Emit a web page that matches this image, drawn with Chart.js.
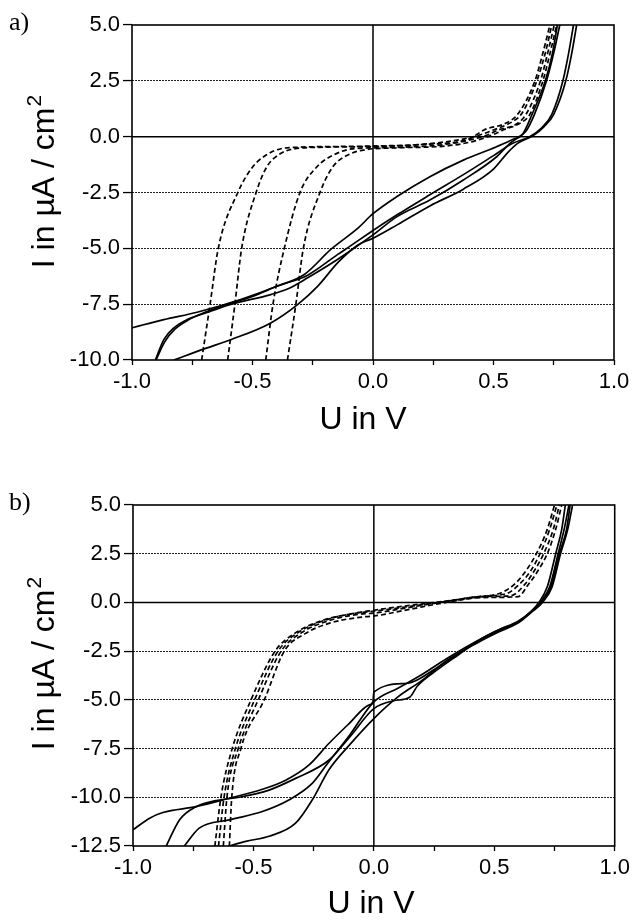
<!DOCTYPE html>
<html>
<head>
<meta charset="utf-8">
<script src="https://cdn.jsdelivr.net/npm/chart.js@4.4.1/dist/chart.umd.min.js"></script>
<style>
  html, body { margin: 0; padding: 0; background: #fff; }
  #wrap { position: relative; width: 634px; height: 921px; }
  canvas { position: absolute; left: 0; }
  #panelA { top: 0; }
  #panelB { top: 480px; }
</style>
</head>
<body>
<div id="wrap">
  <canvas id="panelA" width="634" height="470"></canvas>
  <canvas id="panelB" width="634" height="441"></canvas>
</div>
<script>
// ---- panel a: current density (µA/cm²) vs. voltage (V), [U, I] pairs ----
const aDash1 = [[-0.711,-10],[-0.676,-7.5],[-0.642,-5],[-0.561,-2.5],[-0.498,-1.34],[-0.44,-0.8],[-0.386,-0.55],[-0.3,-0.47],[-0.15,-0.44],[0,-0.42],[0.2,-0.35],[0.4,-0.1],[0.46,0.3],[0.55,0.6],[0.6,1.0],[0.672,2.5],[0.705,3.75],[0.734,5]];
const aDash2 = [[-0.603,-10],[-0.573,-7.5],[-0.545,-5],[-0.485,-2.5],[-0.44,-1.34],[-0.39,-0.8],[-0.33,-0.55],[-0.2,-0.47],[0,-0.44],[0.2,-0.35],[0.42,0.0],[0.5,0.3],[0.575,0.65],[0.615,1.0],[0.68,2.5],[0.715,3.75],[0.742,5]];
const aDash3 = [[-0.445,-10],[-0.415,-7.5],[-0.368,-5],[-0.303,-2.5],[-0.232,-1.34],[-0.16,-0.8],[-0.09,-0.55],[0,-0.5],[0.15,-0.46],[0.3,-0.35],[0.42,-0.1],[0.48,0.1],[0.52,0.3],[0.6,0.6],[0.635,1.0],[0.695,2.5],[0.725,3.75],[0.752,5]];
const aDash4 = [[-0.355,-10],[-0.32,-7.5],[-0.289,-5],[-0.22,-2.5],[-0.166,-1.34],[-0.1,-0.8],[-0.03,-0.58],[0.1,-0.5],[0.3,-0.42],[0.42,-0.2],[0.5,0.1],[0.54,0.3],[0.61,0.6],[0.651,1.0],[0.705,2.5],[0.735,3.75],[0.762,5]];

const aSolid1 = [[-1,-8.56],[-0.868,-8.19],[-0.73,-7.86],[-0.549,-7.29],[-0.396,-6.69],[-0.285,-6.17],[-0.174,-5.04],[-0.06,-4.07],[0,-3.45],[0.098,-2.69],[0.236,-1.79],[0.375,-1.05],[0.513,-0.45],[0.582,-0.12],[0.62,0.1],[0.66,1.0],[0.715,2.5],[0.745,3.75],[0.765,5]];
const aSolid2 = [[-0.903,-10],[-0.868,-9.09],[-0.826,-8.56],[-0.771,-8.19],[-0.701,-7.92],[-0.59,-7.51],[-0.424,-7.07],[-0.35,-6.8],[-0.271,-6.32],[-0.146,-5.49],[0,-4.4],[0.098,-3.59],[0.236,-2.84],[0.375,-1.94],[0.513,-0.9],[0.568,-0.3],[0.6,-0.05],[0.635,0.25],[0.67,1.0],[0.72,2.5],[0.75,3.75],[0.775,5]];
const aSolid3 = [[-0.9,-10],[-0.865,-9.2],[-0.822,-8.62],[-0.765,-8.2],[-0.7,-7.88],[-0.59,-7.45],[-0.5,-7.15],[-0.396,-6.69],[-0.271,-6.2],[-0.146,-5.27],[-0.104,-4.97],[0,-4.2],[0.1,-3.5],[0.236,-2.6],[0.375,-1.7],[0.5,-0.85],[0.58,-0.3],[0.65,0.0],[0.7,0.4],[0.742,1.0],[0.788,2.5],[0.812,3.75],[0.832,5]];
const aSolid4 = [[-0.826,-10],[-0.7,-9.5],[-0.59,-9.09],[-0.424,-8.34],[-0.312,-7.51],[-0.229,-6.69],[-0.146,-5.64],[-0.0625,-4.85],[0,-4.55],[0.1,-3.95],[0.236,-3.1],[0.375,-2.35],[0.5,-1.45],[0.56,-0.7],[0.6,-0.3],[0.665,0.05],[0.71,0.45],[0.75,1.0],[0.8,2.5],[0.825,3.75],[0.845,5]];

// ---- panel b ----
const bDash1 = [[-0.66,-12.5],[-0.635,-10],[-0.588,-7.5],[-0.51,-5],[-0.41,-2.5],[-0.33,-1.6],[-0.22,-0.95],[-0.1,-0.6],[0,-0.45],[0.15,-0.2],[0.3,0.05],[0.45,0.3],[0.53,0.5],[0.59,1.0],[0.63,1.6],[0.675,2.5],[0.72,3.75],[0.75,5]];
const bDash2 = [[-0.645,-12.5],[-0.622,-10],[-0.575,-7.5],[-0.495,-5],[-0.398,-2.5],[-0.315,-1.55],[-0.2,-0.9],[-0.08,-0.55],[0,-0.4],[0.15,-0.15],[0.3,0.07],[0.45,0.32],[0.55,0.45],[0.61,1.0],[0.65,1.6],[0.69,2.5],[0.73,3.75],[0.76,5]];
const bDash3 = [[-0.625,-12.5],[-0.61,-10],[-0.563,-7.5],[-0.48,-5],[-0.385,-2.5],[-0.3,-1.55],[-0.19,-0.95],[-0.06,-0.6],[0,-0.55],[0.15,-0.25],[0.3,0.05],[0.45,0.3],[0.57,0.35],[0.625,0.9],[0.665,1.6],[0.705,2.5],[0.745,3.75],[0.77,5]];
const bDash4 = [[-0.6,-12.5],[-0.59,-10],[-0.552,-7.5],[-0.455,-5],[-0.372,-2.5],[-0.285,-1.6],[-0.18,-1.05],[-0.05,-0.75],[0,-0.7],[0.15,-0.35],[0.3,0.0],[0.45,0.25],[0.6,0.3],[0.64,0.9],[0.68,1.6],[0.72,2.5],[0.755,3.75],[0.78,5]];

const bSolid1 = [[-1,-11.67],[-0.931,-11.07],[-0.876,-10.78],[-0.738,-10.48],[-0.6,-10.05],[-0.463,-9.59],[-0.366,-9.12],[-0.27,-8.35],[-0.187,-7.24],[-0.103,-6.22],[-0.021,-5.27],[-0.004,-5.1],[0,-4.6],[0.131,-4.16],[0.269,-3.3],[0.434,-1.95],[0.5,-1.5],[0.6,-1.0],[0.65,-0.5],[0.685,0],[0.72,0.8],[0.755,2.5],[0.78,3.75],[0.795,5]];
const bSolid2 = [[-0.862,-12.5],[-0.807,-11.16],[-0.738,-10.48],[-0.656,-10.17],[-0.559,-10.0],[-0.435,-9.63],[-0.325,-9.03],[-0.187,-8.1],[-0.1,-6.9],[0,-5.45],[0.08,-5.05],[0.15,-4.85],[0.18,-4.3],[0.27,-3.4],[0.35,-2.7],[0.45,-1.85],[0.52,-1.4],[0.6,-0.95],[0.655,-0.45],[0.69,0],[0.73,0.8],[0.765,2.5],[0.79,3.75],[0.81,5]];
const bSolid3 = [[-0.787,-12.5],[-0.725,-11.58],[-0.6,-11.16],[-0.463,-10.73],[-0.353,-10.14],[-0.256,-9.29],[-0.187,-8.18],[-0.1,-6.8],[0,-5.1],[0.1,-4.4],[0.2,-3.7],[0.3,-2.9],[0.44,-1.9],[0.52,-1.45],[0.6,-1.0],[0.66,-0.4],[0.695,0],[0.735,0.8],[0.77,2.5],[0.8,3.75],[0.815,5]];
const bSolid4 = [[-0.6,-12.5],[-0.532,-12.26],[-0.435,-12.0],[-0.325,-11.33],[-0.256,-10.14],[-0.187,-8.6],[-0.1,-7.3],[0,-5.96],[0.1,-4.85],[0.2,-4.0],[0.3,-3.0],[0.44,-2.0],[0.52,-1.5],[0.6,-1.05],[0.66,-0.45],[0.7,0],[0.74,0.8],[0.775,2.5],[0.805,3.75],[0.825,5]];

// ---- axes ----
const xTicks = [-1, -0.75, -0.5, -0.25, 0, 0.25, 0.5, 0.75, 1];
const xLabels = [-1, -0.5, 0, 0.5, 1];
const aYTicks = [-10, -7.5, -5, -2.5, 0, 2.5, 5];
const aYLabels = [-10, -7.5, -5, -2.5, 0, 2.5, 5];
const aGridY = [-7.5, -5, -2.5, 2.5];
const bYTicks = [-12.5, -11.25, -10, -8.75, -7.5, -6.25, -5, -3.75, -2.5, -1.25, 0, 1.25, 2.5, 3.75, 5];
const bYLabels = [-12.5, -10, -7.5, -5, -2.5, 0, 2.5, 5];
const bGridY = [-10, -7.5, -5, -2.5, 2.5];

const SANS = '"Liberation Sans", Arial, sans-serif';
const SERIF = '"Liberation Serif", "DejaVu Serif", serif';

const curve = (pts, dash) => ({
    data: pts.map(([x, y]) => ({ x, y })),
    showLine: true,
    borderColor: '#000',
    borderWidth: 1.7,
    borderDash: dash,
    pointRadius: 0,
    fill: false,
    cubicInterpolationMode: 'monotone'
});

// frame, zero lines and the panel texts
const decor = {
    id: 'decor',
    beforeDatasetsDraw(chart) {
        const { ctx, chartArea: a, scales: { x, y } } = chart;
        const x0 = x.getPixelForValue(0);
        const y0 = y.getPixelForValue(0);
        ctx.save();
        ctx.strokeStyle = '#000';
        ctx.lineWidth = 1.5;
        ctx.beginPath();
        ctx.moveTo(x0, a.top); ctx.lineTo(x0, a.bottom);
        ctx.moveTo(a.left, y0); ctx.lineTo(a.right, y0);
        ctx.stroke();
        ctx.restore();
    },
    afterDatasetsDraw(chart) {
        const { ctx, chartArea: a } = chart;
        ctx.save();
        ctx.strokeStyle = '#000';
        ctx.lineWidth = 1.6;
        ctx.strokeRect(a.left, a.top, a.right - a.left, a.bottom - a.top);
        ctx.restore();
    },
    afterDraw(chart, args, opts) {
        const { ctx } = chart;
        ctx.save();
        ctx.fillStyle = '#000';
        ctx.font = '26px ' + SERIF;
        ctx.textAlign = 'left';
        ctx.textBaseline = 'alphabetic';
        ctx.fillText(opts.label, 9, opts.labelY);

        ctx.font = '32px ' + SANS;
        ctx.textAlign = 'center';
        ctx.textBaseline = 'middle';
        ctx.fillText('U in V', opts.xTitle[0], opts.xTitle[1]);

        // rotated y title with a raised exponent
        const main = 'I in µA / cm';
        const wMain = ctx.measureText(main).width;
        ctx.font = '21px ' + SANS;
        const wSup = ctx.measureText('2').width;
        const start = -(wMain + wSup) / 2;
        ctx.translate(opts.yTitle[0], opts.yTitle[1]);
        ctx.rotate(-Math.PI / 2);
        ctx.textAlign = 'left';
        ctx.font = '32px ' + SANS;
        ctx.fillText(main, start, 0);
        ctx.font = '21px ' + SANS;
        ctx.fillText('2', start + wMain + 1, -10);
        ctx.restore();
    }
};

const makePanel = (id, p) => {
    const datasets = [];
    p.solid.forEach(pts => datasets.push(curve(pts, [])));
    p.dashed.forEach(pts => datasets.push(curve(pts, [5, 3])));

    return new Chart(document.getElementById(id), {
        type: 'scatter',
        data: { datasets },
        plugins: [decor],
        options: {
            responsive: false,
            animation: false,
            layout: { padding: { left: 0, right: p.padRight, top: 25, bottom: 0 } },
            plugins: {
                legend: { display: false },
                tooltip: { enabled: false },
                decor: { label: p.label, labelY: 30, xTitle: p.xTitle, yTitle: p.yTitle }
            },
            scales: {
                x: {
                    type: 'linear',
                    min: -1,
                    max: 1,
                    afterBuildTicks: s => { s.ticks = xTicks.map(v => ({ value: v })); },
                    afterFit: s => { s.height = p.xAxisHeight; },
                    border: { display: false },
                    grid: {
                        drawOnChartArea: false,
                        tickLength: 5,
                        tickColor: '#000',
                        tickWidth: 1.3
                    },
                    ticks: {
                        autoSkip: false,
                        maxRotation: 0,
                        padding: 4,
                        color: '#000',
                        font: { family: SANS, size: 22 },
                        callback: v => xLabels.includes(v) ? v.toFixed(1) : ''
                    }
                },
                y: {
                    type: 'linear',
                    min: p.yMin,
                    max: 5,
                    afterBuildTicks: s => { s.ticks = p.yTicks.map(v => ({ value: v })); },
                    afterFit: s => { s.width = p.yAxisWidth; },
                    border: { display: false, dash: [2, 1] },
                    grid: {
                        color: c => (c.tick && p.gridY.includes(c.tick.value)) ? '#222' : 'rgba(0,0,0,0)',
                        lineWidth: 1.1,
                        tickLength: 9,
                        tickColor: '#000',
                        tickWidth: 1.3
                    },
                    ticks: {
                        padding: 3,
                        color: '#000',
                        font: { family: SANS, size: 22 },
                        callback: v => p.yLabels.includes(v) ? v.toFixed(1) : ''
                    }
                }
            }
        }
    });
};

makePanel('panelA', {
    label: 'a)',
    solid: [aSolid1, aSolid2, aSolid3, aSolid4],
    dashed: [aDash1, aDash2, aDash3, aDash4],
    yMin: -10,
    yTicks: aYTicks,
    yLabels: aYLabels,
    gridY: aGridY,
    padRight: 20,
    yAxisWidth: 132,
    xAxisHeight: 110,
    xTitle: [363, 420],
    yTitle: [45, 182]
});

makePanel('panelB', {
    label: 'b)',
    solid: [bSolid1, bSolid2, bSolid3, bSolid4],
    dashed: [bDash1, bDash2, bDash3, bDash4],
    yMin: -12.5,
    yTicks: bYTicks,
    yLabels: bYLabels,
    gridY: bGridY,
    padRight: 17,
    yAxisWidth: 133,
    xAxisHeight: 75,
    xTitle: [371, 424],
    yTitle: [45, 184]
});
</script>
</body>
</html>
